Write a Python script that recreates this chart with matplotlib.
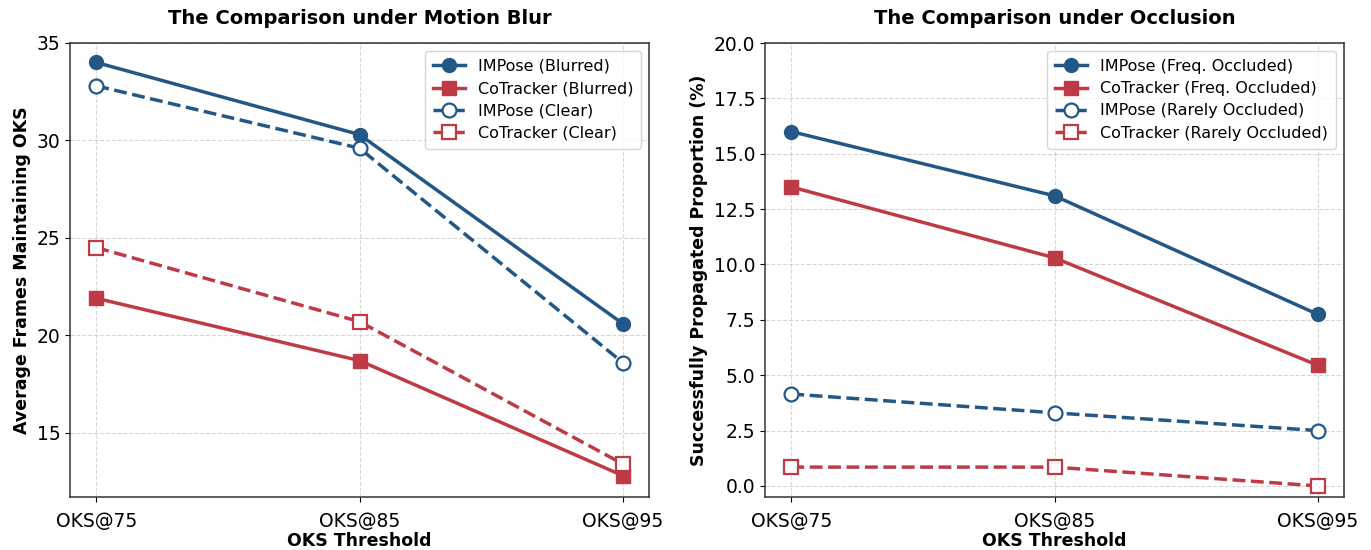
import matplotlib
matplotlib.use("Agg")
import matplotlib.pyplot as plt

# data
thresholds = ["OKS@75", "OKS@85", "OKS@95"]

impose_blurred = [34.0, 30.3, 20.6]
cotracker_blurred = [21.9, 18.7, 12.8]
impose_clear = [32.8, 29.6, 18.6]
cotracker_clear = [24.5, 20.7, 13.4]

impose_freq = [16.0, 13.1, 7.75]
cotracker_freq = [13.5, 10.3, 5.45]
impose_rare = [4.15, 3.3, 2.5]
cotracker_rare = [0.85, 0.85, 0.0]

blue = "#235886"
red = "#be3b45"

fig = plt.figure(figsize=(13.71, 5.5), dpi=100)
ax1 = fig.add_axes([70 / 1371, 53 / 550, 579 / 1371, 454 / 550])
ax2 = fig.add_axes([765 / 1371, 53 / 550, 579 / 1371, 454 / 550])

x = range(len(thresholds))


def draw(ax, a, b, c, d, labels):
    ax.plot(x, a, color=blue, marker="o", markersize=10, linewidth=2.5, label=labels[0])
    ax.plot(x, b, color=red, marker="s", markersize=10, linewidth=2.5, label=labels[1])
    ax.plot(x, c, color=blue, marker="o", markersize=10, linewidth=2.5, linestyle="--",
            markerfacecolor="white", markeredgewidth=1.6, label=labels[2])
    ax.plot(x, d, color=red, marker="s", markersize=10, linewidth=2.5, linestyle="--",
            markerfacecolor="white", markeredgewidth=1.6, label=labels[3])
    ax.set_xticks(list(x))
    ax.set_xticklabels(thresholds, fontsize=13.5)
    ax.tick_params(axis="y", labelsize=13.5)
    ax.tick_params(axis="x", pad=7)
    ax.set_xlabel("OKS Threshold", fontsize=12.5, fontweight="bold", labelpad=1)
    ax.grid(True, linestyle="--", alpha=0.5)
    for s in ax.spines.values():
        s.set_edgecolor("#333333")
        s.set_linewidth(1.1)
    ax.legend(loc="upper right", fontsize=11.5, borderpad=0.5, labelspacing=0.45)


draw(ax1, impose_blurred, cotracker_blurred, impose_clear, cotracker_clear,
     ["IMPose (Blurred)", "CoTracker (Blurred)", "IMPose (Clear)", "CoTracker (Clear)"])
ax1.set_title("The Comparison under Motion Blur", fontsize=14, fontweight="bold", pad=14)
ax1.set_ylabel("Average Frames Maintaining OKS", fontsize=12.5, fontweight="bold", labelpad=4)
ax1.set_ylim(11.7, 35)
ax1.set_yticks([15, 20, 25, 30, 35])

draw(ax2, impose_freq, cotracker_freq, impose_rare, cotracker_rare,
     ["IMPose (Freq. Occluded)", "CoTracker (Freq. Occluded)",
      "IMPose (Rarely Occluded)", "CoTracker (Rarely Occluded)"])
ax2.set_title("The Comparison under Occlusion", fontsize=14, fontweight="bold", pad=14)
ax2.set_ylabel("Successfully Propagated Proportion (%)", fontsize=12.5, fontweight="bold", labelpad=4)
ax2.set_ylim(-0.5, 20)

plt.savefig("out.png")
